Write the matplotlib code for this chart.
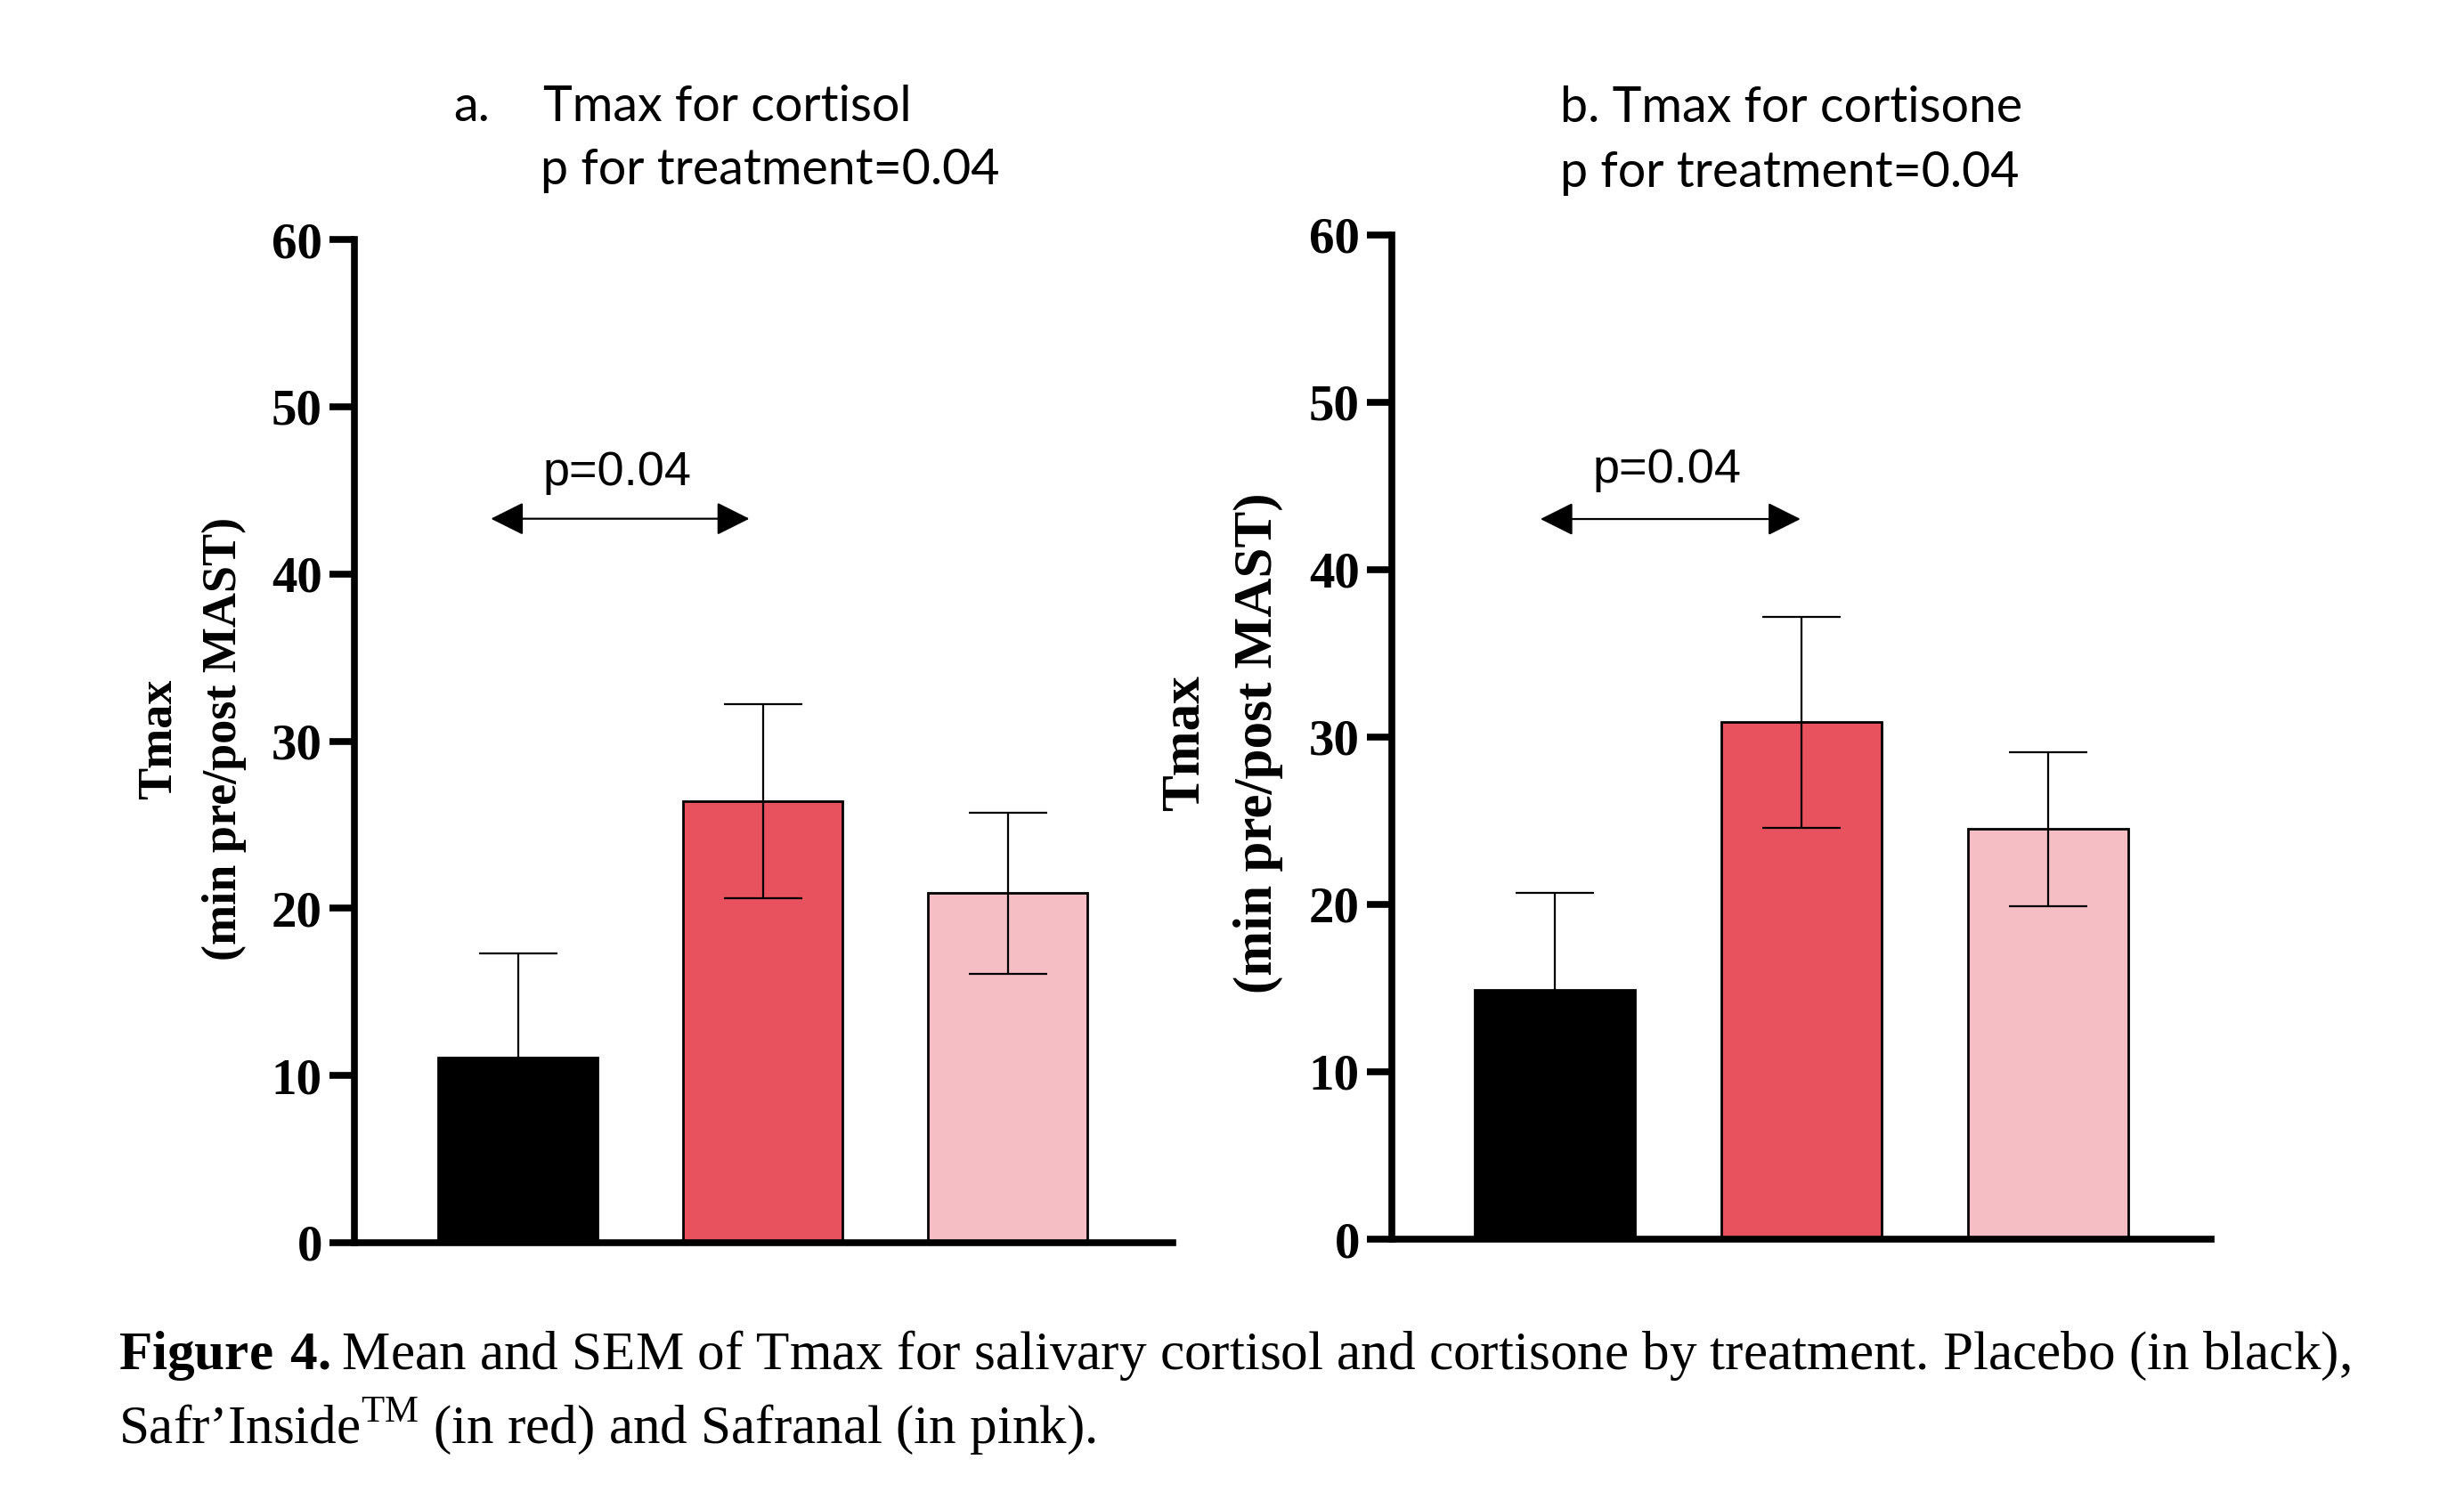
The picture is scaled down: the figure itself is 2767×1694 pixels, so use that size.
import matplotlib
matplotlib.use("Agg")
import matplotlib.pyplot as plt

# values (mean and SEM, minutes)
groups = ["Placebo", "Safr'Inside", "Safranal"]
bar_colors = ["#000000", "#E8525F", "#F5BEC5"]
cortisol_mean = [11.1, 26.4, 20.9]
cortisol_sem = [6.2, 5.8, 4.8]
cortisone_mean = [14.9, 30.9, 24.5]
cortisone_sem = [5.8, 6.3, 4.6]
yticks = [0, 10, 20, 30, 40, 50, 60]
pair_p = "p=0.04"

plt.rcParams["mathtext.fontset"] = "custom"
plt.rcParams["mathtext.rm"] = "Liberation Serif"
plt.rcParams["mathtext.bf"] = "Liberation Serif:bold"

W, H = 2767, 1694
fig = plt.figure(figsize=(W / 100, H / 100), dpi=100)


def px(x, y):
    return x / W, 1 - y / H


def draw_panel(ax, means, sems, xlim, label_size, tick_size, label_xy, p_x, p_y, arrow_x, arrow_y):
    x = range(len(groups))
    ax.bar(x, means, width=0.65, color=bar_colors, edgecolor="black", linewidth=2, zorder=2)
    ax.errorbar(x, means, yerr=sems, fmt="none", ecolor="black", elinewidth=1.6,
                capsize=32, capthick=1.6, zorder=3)
    ax.set_xlim(*xlim)
    ax.set_ylim(0, 60)
    ax.set_yticks(yticks)
    ax.set_xticks([])
    for s in ("top", "right"):
        ax.spines[s].set_visible(False)
    for s in ("left", "bottom"):
        ax.spines[s].set_linewidth(5.5)
        ax.spines[s].set_capstyle("projecting")
        ax.spines[s].set_zorder(4)
    ax.tick_params(axis="y", direction="out", length=20, width=5.5, pad=6)
    for t in ax.get_yticklabels():
        t.set_fontfamily("Liberation Serif")
        t.set_fontweight("bold")
        t.set_fontsize(tick_size)
    ax.text(label_xy[0], label_xy[1], "Tmax\n(min pre/post MAST)", transform=ax.transAxes,
            rotation=90, ha="center", va="center", fontsize=label_size, fontweight="bold",
            family="Liberation Serif", linespacing=1.6)
    ax.annotate("", xy=(arrow_x[1], arrow_y), xytext=(arrow_x[0], arrow_y),
                arrowprops=dict(arrowstyle="<|-|>,head_length=0.4,head_width=0.2",
                                mutation_scale=58, lw=1.6, color="black",
                                shrinkA=0, shrinkB=0))
    ax.text(p_x, p_y, pair_p, ha="center", va="baseline", fontsize=39, family="Liberation Sans")


ax1 = fig.add_axes([398 / W, 1 - 1396 / H, (1317 - 398) / W, (1396 - 269) / H])
draw_panel(ax1, cortisol_mean, cortisol_sem, (-0.667, 2.673), 39, 41, (-0.199, 0.502),
           0.407, 45.3, (-0.11, 0.945), 43.3)

ax2 = fig.add_axes([1563 / W, 1 - 1392 / H, (2483 - 1563) / W, (1392 - 264) / H])
draw_panel(ax2, cortisone_mean, cortisone_sem, (-0.66, 2.66), 44, 41, (-0.208, 0.494),
           0.457, 45.2, (-0.058, 0.996), 43.03)

title_kw = dict(fontsize=40, family="Lato", va="baseline", ha="left")
fig.text(*px(509, 136), "a.", **title_kw)
fig.text(*px(610, 136), "Tmax for cortisol", **title_kw)
fig.text(*px(607, 207), "p for treatment=0.04", **title_kw)
fig.text(*px(1752, 137), "b. Tmax for cortisone", **title_kw)
fig.text(*px(1752, 210), "p for treatment=0.04", **title_kw)

cap_kw = dict(fontsize=44, family="Liberation Serif", va="baseline", ha="left")
fig.text(*px(133, 1538),
         r"$\bf{Figure\ 4.}$Mean and SEM of Tmax for salivary cortisol and cortisone by treatment. "
         r"Placebo (in black),", **cap_kw)
fig.text(*px(133, 1621), r"Safr’Inside$^{\rm TM}$ (in red) and Safranal (in pink).", **cap_kw)

fig.savefig("out.png", dpi=100)
